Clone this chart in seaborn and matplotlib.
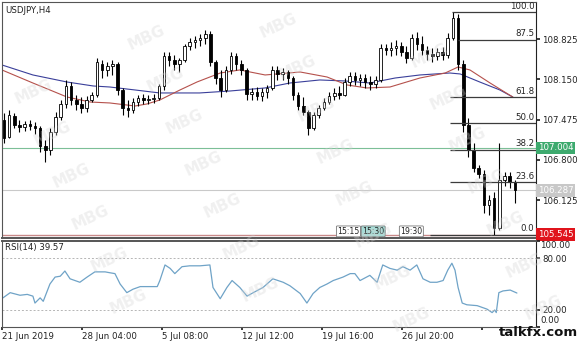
import numpy as np
import pandas as pd
import matplotlib
matplotlib.use("Agg")
import matplotlib.pyplot as plt
import matplotlib.transforms as mtransforms
import seaborn as sns

sns.set_theme(style="white")
plt.rcParams['font.family'] = ['DejaVu Sans']

# ---------------- data ----------------
symbol_title = "USDJPY,H4"

opens = [107.470, 107.185, 107.537, 107.386, 107.353, 107.403, 107.370, 107.336, 107.034, 106.967,
         107.269, 107.521, 107.739, 108.041, 107.806, 107.739, 107.672, 107.806, 107.890, 108.410,
         108.310, 108.377, 108.410, 107.974, 107.672, 107.638, 107.772, 107.840, 107.806, 107.823,
         107.840, 108.041, 108.545, 108.478, 108.410, 108.478, 108.713, 108.780, 108.813, 108.847,
         108.914, 108.444, 108.175, 107.974, 108.310, 108.545, 108.410, 108.310, 107.907, 107.940,
         107.873, 107.940, 108.008, 108.310, 108.243, 108.276, 108.175, 107.890, 107.705, 107.605,
         107.336, 107.554, 107.672, 107.772, 107.873, 107.924, 107.890, 108.108, 108.209, 108.142,
         108.175, 108.108, 108.075, 108.142, 108.679, 108.646, 108.679, 108.713, 108.612, 108.511,
         108.847, 108.746, 108.646, 108.578, 108.545, 108.612, 108.562, 108.847, 109.183, 108.410,
         107.386, 106.967, 106.664, 106.564, 106.043, 106.161, 105.657, 106.463, 106.530, 106.429]
highs = [107.588, 107.638, 107.588, 107.470, 107.453, 107.470, 107.437, 107.370, 107.134, 107.336,
         107.605, 107.806, 108.142, 108.108, 107.890, 107.856, 107.873, 107.940, 108.511, 108.478,
         108.444, 108.478, 108.444, 108.008, 107.806, 107.840, 107.890, 107.907, 107.890, 107.907,
         108.075, 108.612, 108.612, 108.562, 108.511, 108.746, 108.847, 108.881, 108.914, 108.981,
         108.965, 108.478, 108.310, 108.377, 108.612, 108.595, 108.478, 108.343, 108.008, 108.024,
         108.008, 108.058, 108.377, 108.377, 108.343, 108.310, 108.209, 107.940, 107.856, 107.638,
         107.605, 107.722, 107.840, 107.940, 108.008, 108.041, 108.175, 108.276, 108.276, 108.243,
         108.243, 108.209, 108.209, 108.746, 108.746, 108.780, 108.813, 108.780, 108.713, 108.914,
         108.948, 108.881, 108.713, 108.679, 108.679, 108.696, 108.931, 109.284, 109.250, 108.478,
         107.504, 107.084, 106.715, 106.631, 106.211, 106.261, 107.084, 106.597, 106.597, 106.463]
lows = [107.084, 107.168, 107.336, 107.269, 107.286, 107.302, 107.235, 106.933, 106.765, 106.883,
        107.218, 107.470, 107.672, 107.722, 107.638, 107.588, 107.605, 107.772, 107.856, 108.175,
        108.209, 108.226, 107.890, 107.554, 107.521, 107.588, 107.705, 107.739, 107.739, 107.756,
        107.806, 107.974, 108.377, 108.310, 108.276, 108.444, 108.646, 108.679, 108.713, 108.746,
        108.377, 108.075, 107.856, 107.940, 108.243, 108.310, 108.226, 107.806, 107.806, 107.806,
        107.789, 107.840, 107.974, 108.142, 108.142, 108.075, 107.806, 107.638, 107.554, 107.218,
        107.302, 107.504, 107.638, 107.739, 107.806, 107.823, 107.873, 108.041, 108.058, 108.041,
        108.008, 107.974, 108.008, 108.108, 108.562, 108.545, 108.562, 108.545, 108.427, 108.478,
        108.646, 108.562, 108.478, 108.444, 108.478, 108.478, 108.511, 108.813, 108.310, 107.269,
        106.849, 106.597, 106.496, 105.909, 105.875, 105.545, 105.623, 106.362, 106.329, 106.077]
closes = [107.168, 107.554, 107.386, 107.353, 107.403, 107.370, 107.336, 107.034, 106.967, 107.269,
          107.521, 107.739, 108.041, 107.806, 107.739, 107.672, 107.806, 107.890, 108.444, 108.310,
          108.377, 108.410, 107.974, 107.672, 107.638, 107.772, 107.840, 107.806, 107.823, 107.840,
          108.041, 108.545, 108.478, 108.410, 108.478, 108.713, 108.780, 108.813, 108.847, 108.914,
          108.444, 108.175, 107.974, 108.310, 108.545, 108.410, 108.310, 107.907, 107.940, 107.873,
          107.940, 108.008, 108.310, 108.243, 108.276, 108.175, 107.890, 107.705, 107.605, 107.336,
          107.554, 107.672, 107.772, 107.873, 107.924, 107.890, 108.108, 108.209, 108.142, 108.175,
          108.108, 108.075, 108.142, 108.679, 108.646, 108.679, 108.713, 108.612, 108.511, 108.847,
          108.746, 108.646, 108.578, 108.545, 108.612, 108.562, 108.847, 109.183, 108.410, 107.386,
          106.967, 106.664, 106.564, 106.043, 106.127, 105.657, 106.463, 106.530, 106.429, 106.295]

ma_red_idx = [-0.4, 5.6, 8.9, 12.2, 16.7, 20.5, 25.4, 27.7, 30.2, 34.1, 37.4, 39.9, 41.9, 45.7,
              50.6, 57.4, 62.6, 66.5, 70.3, 74.8, 80.6, 85.5, 88.0, 90.3, 94.2, 98.6]
ma_red_val = [108.310, 108.091, 107.974, 107.856, 107.772, 107.756, 107.705, 107.739, 107.806,
              107.974, 108.108, 108.192, 108.259, 108.310, 108.226, 108.276, 108.192, 108.058,
              108.008, 108.024, 108.175, 108.259, 108.360, 108.310, 108.091, 107.856]
ma_blue_idx = [-0.4, 5.6, 12.2, 17.3, 20.5, 25.4, 30.2, 37.9, 43.8, 50.6, 55.4, 61.2, 66.1,
               70.9, 75.8, 80.6, 86.4, 88.4, 92.2, 96.1, 98.6]
ma_blue_val = [108.394, 108.226, 108.108, 108.041, 108.024, 107.974, 107.924, 107.924, 107.957,
               108.008, 108.091, 108.142, 108.125, 108.091, 108.175, 108.226, 108.259, 108.243,
               108.108, 107.974, 107.856]

rsi_idx = [-0.2, 1.2, 3.1, 4.5, 5.6, 6.0, 7.0, 7.6, 8.9, 9.9, 10.9, 11.8, 12.8, 14.7, 16.1,
           17.6, 19.6, 20.5, 21.5, 22.5, 23.8, 25.0, 26.4, 29.7, 30.2, 31.2, 32.2, 33.1, 34.5,
           36.0, 38.0, 39.9, 40.5, 41.9, 43.2, 44.2, 45.7, 47.1, 48.3, 50.2, 52.1, 54.1, 55.4,
           57.4, 58.7, 59.9, 61.2, 62.6, 63.8, 65.7, 67.1, 68.0, 69.0, 70.9, 72.3, 73.4, 74.8,
           76.2, 77.3, 78.7, 80.0, 81.2, 82.6, 83.9, 85.1, 86.0, 86.8, 87.4, 88.0, 88.8, 89.7,
           91.7, 93.6, 94.6, 95.1, 95.4, 95.9, 96.7, 98.1, 99.4]
rsi_val = [34, 40, 37, 38, 36, 28, 34, 30, 50, 58, 59, 65, 56, 52, 58,
           64, 64, 63, 62, 50, 40, 44, 47, 47, 54, 72, 68, 62, 70,
           71, 71, 72, 46, 33, 46, 54, 46, 36, 40, 46, 56, 52, 48,
           39, 28, 39, 46, 50, 54, 58, 62, 62, 54, 60, 52, 72, 68,
           66, 70, 66, 72, 56, 52, 52, 54, 66, 74, 66, 46, 28, 26,
           25, 21, 17, 20, 17, 40, 42, 43, 39.57]
rsi_title = "RSI(14) 39.57"

price_ticks = [108.825, 108.150, 107.475, 106.800, 106.125]
date_labels = ["21 Jun 2019", "28 Jun 04:00", "5 Jul 08:00", "12 Jul 12:00",
               "19 Jul 16:00", "26 Jul 20:00"]
fib_levels = [100.0, 87.5, 61.8, 50.0, 38.2, 23.6, 0.0]
fib_high = 109.284
fib_low = 105.545
green_level = 107.004
grey_level = 106.287
red_level = 105.545
rsi_levels = [80, 20]
time_boxes = ["15:15", "15:30", "19:30"]

# ---------------- layout ----------------
W, H = 580, 342
fig = plt.figure(figsize=(W / 100, H / 100), dpi=100)
fig.patch.set_facecolor("white")


def box(x0, y0, x1, y1):
    return [x0 / W, 1 - y1 / H, (x1 - x0) / W, (y1 - y0) / H]


ax = fig.add_axes(box(2, 2, 536, 238))
axr = fig.add_axes(box(2, 240.7, 536, 327.3))
XMIN, XMAX = -0.39, 103.1
FS = 6.2

# ---------------- candles ----------------
df = pd.DataFrame(dict(i=np.arange(len(opens)), o=opens, h=highs, l=lows, c=closes))
bull = df.c >= df.o
ax.vlines(df.i, df.l, df.h, color="black", lw=0.8, zorder=3)
ax.bar(df.i[bull], (df.c - df.o)[bull], bottom=df.o[bull], width=0.5,
       color="white", edgecolor="black", lw=0.6, zorder=4)
ax.bar(df.i[~bull], (df.o - df.c)[~bull], bottom=df.c[~bull], width=0.5,
       color="black", edgecolor="black", lw=0.6, zorder=4)

sns.lineplot(x=ma_blue_idx, y=ma_blue_val, ax=ax, color="#3a3f9a", lw=0.8, zorder=2)
sns.lineplot(x=ma_red_idx, y=ma_red_val, ax=ax, color="#b5514c", lw=0.8, zorder=2)

# horizontal level lines
ax.axhline(green_level, color="#7cbf97", lw=0.8, zorder=1)
ax.axhline(grey_level, color="#c9c9c9", lw=0.8, zorder=1)
ax.axhline(red_level, color="#c98a8a", lw=1.0, zorder=1)

# fibonacci
fib_starts = [86.8, 88.0, 86.4, 86.4, 86.4, 86.4, 82.6]
for lvl, st in zip(fib_levels, fib_starts):
    p = fib_low + lvl / 100 * (fib_high - fib_low)
    ax.hlines(p, st, XMAX, color="#3c3c3c", lw=0.9, zorder=5)
    ax.annotate(f"{lvl:.1f}", xy=(XMAX - 0.3, p), xytext=(0, 1), textcoords="offset points",
                ha="right", va="bottom", fontsize=FS, color="#222222", zorder=6)

ax.set_xlim(XMIN, XMAX)
ax.set_ylim(105.489, 109.451)
ax.set_xticks([])
ax.yaxis.tick_right()
ax.set_yticks(price_ticks)
ax.set_yticklabels([f"{t:.3f}" for t in price_ticks])
ax.tick_params(axis="y", labelsize=FS, length=3, pad=1.5, direction="out",
               colors="#222222", right=True, left=False)
ax.set_xlabel("")
ax.set_ylabel("")
for s in ax.spines.values():
    s.set_color("#555555")
    s.set_linewidth(0.8)
ax.spines["right"].set_color("#222222")
ax.spines["bottom"].set_linewidth(1.4)

trans = mtransforms.blended_transform_factory(ax.transAxes, ax.transData)
for val, fc, tc in [(green_level, "#3daa6e", "white"), (grey_level, "#c8c8c8", "white"),
                    (red_level, "#e0141c", "white")]:
    ax.text(1.004, val, f"{val:.3f}", transform=trans, ha="left", va="center", fontsize=FS,
            color=tc, bbox=dict(boxstyle="square,pad=0.2", fc=fc, ec="none"), clip_on=False, zorder=7)

ax.text(0.006, 0.985, symbol_title, transform=ax.transAxes, ha="left", va="top",
        fontsize=FS, color="#222222")

# time boxes near bottom
tb_x = [64.6, 69.4, 76.8]
tb_fc = ["white", "#a6dcd6", "white"]
for txt, xx, fc in zip(time_boxes, tb_x, tb_fc):
    ax.text(xx, 105.60, txt, ha="left", va="center", fontsize=5.6, color="#222222",
            bbox=dict(boxstyle="round,pad=0.12", fc=fc, ec="#777777", lw=0.6), zorder=8)

# ---------------- RSI ----------------
sns.lineplot(x=rsi_idx, y=rsi_val, ax=axr, color="#6fa3c7", lw=0.9)
for lv in rsi_levels:
    axr.axhline(lv, color="#b5b5b5", lw=0.7, ls=(0, (2, 2)))
axr.set_xlim(XMIN, XMAX)
axr.set_ylim(0, 100)
axr.yaxis.tick_right()
axr.set_yticks([100, 80, 20, 0])
axr.set_yticklabels(["", "80.00", "20.00", ""])
axr.tick_params(axis="y", labelsize=FS, length=3, pad=1.5, colors="#222222", right=True, left=False)
rtrans = mtransforms.blended_transform_factory(axr.transAxes, axr.transData)
axr.text(1.0 + 4.5 / 534, 95, "100.00", transform=rtrans, ha="left", va="center", fontsize=FS, color="#222222")
axr.text(1.0 + 4.5 / 534, 7.5, "0.00", transform=rtrans, ha="left", va="center", fontsize=FS, color="#222222")
axr.text(0.006, 0.975, rsi_title, transform=axr.transAxes, ha="left", va="top",
         fontsize=FS, color="#222222")

tick_pos = [XMIN + 15.5 * k for k in range(len(date_labels) + 1)]
axr.set_xticks(tick_pos)
axr.set_xticklabels(date_labels + [""])
plt.setp(axr.get_xticklabels(), ha="left")
axr.tick_params(axis="x", labelsize=FS, length=2.5, pad=1, colors="#222222", bottom=True)
axr.set_xlabel("")
axr.set_ylabel("")
for s in axr.spines.values():
    s.set_color("#555555")
    s.set_linewidth(0.8)
axr.spines["right"].set_color("#222222")
axr.spines["top"].set_linewidth(1.4)

# ---------------- watermarks ----------------
ox, oy = 147, 38
ux, uy = 132, -12
vx, vy = 19, 42
for a in range(-1, 4):
    for b in range(-2, 9):
        cx = ox + a * ux + b * vx
        cy = oy + a * uy + b * vy
        if 25 < cx < W - 25 and 14 < cy < H - 20:
            fig.text(cx / W, 1 - cy / H, "MBG", rotation=25, ha="center", va="center",
                     fontsize=11, fontweight="bold", color="#d4d4d4", alpha=0.35, zorder=10)

fig.text(578 / W, 1 - 332 / H, "talkfx.com", ha="right", va="center", fontsize=9.5,
         fontweight="bold", color="#111111", zorder=11)

fig.savefig("out.png", dpi=100, facecolor="white")
